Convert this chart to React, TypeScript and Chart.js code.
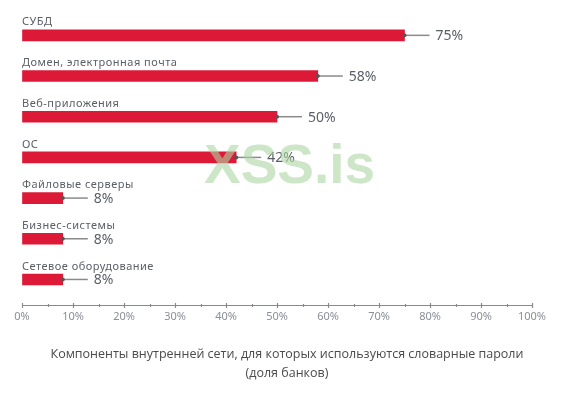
import React, { useEffect, useRef } from "react";
import { Chart, registerables } from "chart.js";

Chart.register(...registerables);

const categories = [
  "СУБД",
  "Домен, электронная почта",
  "Веб-приложения",
  "ОС",
  "Файловые серверы",
  "Бизнес-системы",
  "Сетевое оборудование",
];
const values = [75, 58, 50, 42, 8, 8, 8];
const xTicks = [0, 10, 20, 30, 40, 50, 60, 70, 80, 90, 100];
const titleLines = [
  "Компоненты внутренней сети, для которых используются словарные пароли",
  "(доля банков)",
];
const watermark = "XSS.is";

const decorPlugin = {
  id: "decor",
  afterDatasetsDraw(chart: any) {
    const ctx = chart.ctx;
    const meta = chart.getDatasetMeta(0);
    const area = chart.chartArea;
    ctx.save();
    meta.data.forEach((bar: any, i: number) => {
      const endX = bar.x;
      const y = bar.y;
      // category label
      ctx.fillStyle = "#5b5f66";
      ctx.font = "11px 'Noto Sans'";
      (ctx as any).letterSpacing = "0.5px";
      ctx.textAlign = "left";
      ctx.textBaseline = "middle";
      ctx.fillText(categories[i], area.left, y - 13);
      (ctx as any).letterSpacing = "0px";
      // leader line
      ctx.strokeStyle = "#8a8a8a";
      ctx.lineWidth = 1.5;
      ctx.beginPath();
      ctx.moveTo(endX, y);
      ctx.lineTo(endX + 25, y);
      ctx.stroke();
      ctx.fillStyle = "#555";
      ctx.beginPath();
      ctx.arc(endX, y, 2, 0, Math.PI * 2);
      ctx.fill();
      // value label
      ctx.fillStyle = "#5b5f66";
      ctx.font = "14px 'Noto Sans'";
      ctx.fillText(values[i] + "%", endX + 31, y + 1);
    });
    // x axis line and ticks
    const xs = chart.scales.x;
    const axisY = Math.round(area.bottom + 5) + 0.5;
    ctx.strokeStyle = "#8a8a8a";
    ctx.lineWidth = 1.2;
    ctx.beginPath();
    ctx.moveTo(xs.getPixelForValue(0), axisY);
    ctx.lineTo(xs.getPixelForValue(100), axisY);
    ctx.stroke();
    for (let v = 0; v <= 100; v += 5) {
      const px = Math.round(xs.getPixelForValue(v)) + 0.5;
      const major = v % 10 === 0;
      ctx.beginPath();
      ctx.moveTo(px, axisY - (major ? 2.5 : 1.5));
      ctx.lineTo(px, axisY + (major ? 2.5 : 1.5));
      ctx.stroke();
    }
    ctx.restore();
  },
  afterDraw(chart: any) {
    const ctx = chart.ctx;
    ctx.save();
    // title (centred on the canvas)
    ctx.fillStyle = "#4a4a4a";
    ctx.font = "12.5px 'Open Sans'";
    ctx.textAlign = "center";
    ctx.textBaseline = "middle";
    const cx = chart.width / 2;
    const axisBottom = chart.scales.x.bottom;
    titleLines.forEach((line, i) => {
      ctx.fillText(line, cx, axisBottom + 27 + i * 19);
    });
    // watermark
    ctx.fillStyle = "rgba(172,213,163,0.6)";
    ctx.font = "bold 55px 'Liberation Sans'";
    ctx.textAlign = "left";
    ctx.textBaseline = "alphabetic";
    ctx.fillText(watermark, 204, 183);
    ctx.restore();
  },
};

export default function App() {
  const ref = useRef<HTMLCanvasElement | null>(null);
  useEffect(() => {
    if (!ref.current) return;
    const chart = new Chart(ref.current, {
      type: "bar",
      data: {
        labels: categories,
        datasets: [
          {
            data: values,
            backgroundColor: "#dc1a37",
            barThickness: 11,
          },
        ],
      },
      options: {
        indexAxis: "y",
        animation: false,
        responsive: false,
        maintainAspectRatio: false,
        layout: { padding: { left: 22, right: 42, top: 15, bottom: 72 } },
        scales: {
          y: { display: false },
          x: {
            min: 0,
            max: 100,
            afterBuildTicks: (scale: any) => {
              scale.ticks = xTicks.map((v) => ({ value: v }));
            },
            ticks: {
              callback: (v: any) => v + "%",
              color: "#8a8e96",
              font: { family: "'Noto Sans'", size: 11 },
              padding: 4,
              maxRotation: 0,
              autoSkip: false,
            },
            grid: {
              display: true,
              drawOnChartArea: false,
              drawTicks: true,
              tickLength: 6,
              color: "rgba(0,0,0,0)",
            },
            border: { display: false },
          },
        },
        plugins: {
          legend: { display: false },
          tooltip: { enabled: false },
          title: { display: false },
        },
      },
      plugins: [decorPlugin],
    });
    return () => chart.destroy();
  }, []);
  return (
    <div style={{ position: "fixed", left: 0, top: 0, width: 574, height: 399, background: "#fff" }}>
      <canvas ref={ref} width={574} height={399} style={{ width: 574, height: 399 }} />
    </div>
  );
}
